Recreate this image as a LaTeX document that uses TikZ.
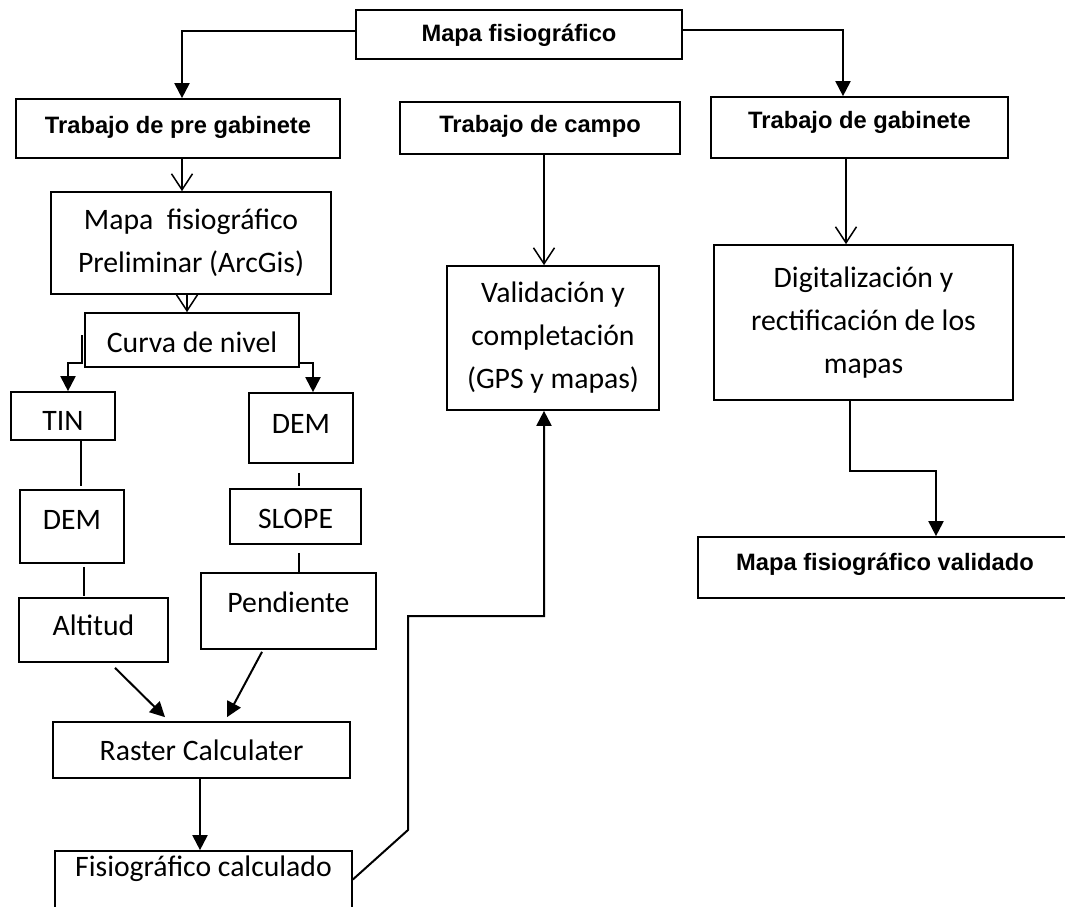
\documentclass[tikz,border=0pt]{standalone}
\usepackage{fontspec}
\setmainfont{Carlito}
\newfontfamily\headfont{Liberation Sans}
\usetikzlibrary{arrows.meta}
\usetikzlibrary{positioning}
\usetikzlibrary{calc}

\begin{document}
\begin{tikzpicture}[x=1pt, y=-1pt,
  box/.style = {draw, line width=1.7pt, inner sep=0pt, align=center,
                font=\fontsize{29.7}{43}\selectfont},
  headbox/.style = {box, font=\headfont\bfseries\fontsize{23.7}{28}\selectfont},
  fa/.style = {-{Triangle[length=15pt,width=15pt]}, line width=2pt},
  oa/.style = {-{Straight Barb[length=16pt,width=21pt]}, line width=1.5pt},
  thin/.style = {line width=1.4pt}]
  \useasboundingbox (0,0) rectangle (1065,907);
  \clip (0,0) rectangle (1065,907);

  % header boxes
  \node[headbox, minimum width=326pt, text height=32pt, text depth=17pt] (mapa) at (519,34.5) {Mapa fisiográfico};
  \node[headbox, minimum width=324pt, text height=34pt, text depth=25pt] (pregab) at (178,128.5) {Trabajo de pre gabinete};
  \node[headbox, minimum width=280pt, text height=30pt, text depth=22pt] (campo) at (540,128) {Trabajo de campo};
  \node[headbox, minimum width=297pt, text height=31pt, text depth=30pt] (gab) at (859.5,127.5) {Trabajo de gabinete};
  \node[headbox, minimum width=374pt, text height=33pt, text depth=28pt] (validado) at (885,567.5) {Mapa fisiográfico validado};

  % left column
  \node[box, minimum width=280pt, minimum height=102pt] (prelim) at (191,243) {Mapa~ fisiográfico\\Preliminar (ArcGis)};
  \node[box, minimum width=214pt, text height=39pt, text depth=15pt] (curva) at (192,340) {Curva de nivel};
  \node[box, minimum width=104pt, text height=38pt, text depth=10pt] (tin) at (63,416) {TIN};
  \node[box, minimum width=104pt, text height=39pt, text depth=34pt] (demL) at (72,526.5) {DEM};
  \node[box, minimum width=149pt, text height=37pt, text depth=27pt] (alt) at (93.5,630) {Altitud};
  \node[box, minimum width=104pt, text height=40pt, text depth=30pt] (demR) at (301,428) {DEM};
  \node[box, minimum width=131pt, text height=39pt, text depth=16pt] (slope) at (295.5,516.5) {SLOPE};
  \node[box, minimum width=175pt, text height=39pt, text depth=37pt] (pend) at (288.5,611) {Pendiente};
  \node[box, minimum width=297pt, text height=38pt, text depth=18pt] (raster) at (201.5,750) {Raster Calculater};
  \node[box, minimum width=297pt, text height=25pt, text depth=32pt] (fcalc) at (203.5,879.5) {Fisiográfico calculado};

  % middle and right columns
  \node[box, minimum width=212pt, minimum height=144pt] (valid) at (553,338) {Validación y\\completación\\(GPS y mapas)};
  \node[box, minimum width=299pt, minimum height=155pt] (digit) at (863.5,322.5) {Digitalización y\\rectificación de los\\mapas};

  % connectors
  \draw[fa] ([yshift=3.5pt]mapa.west) -| ([xshift=4pt]pregab.north);
  \draw[fa] ([yshift=4.5pt]mapa.east) -| ([xshift=-16.5pt]gab.north);
  \draw[oa] ([xshift=4pt]pregab.south) -- ([xshift=-9pt]prelim.north);
  \draw[oa] ([xshift=-4pt]prelim.south) -- ([xshift=-5pt]curva.north);
  \draw[fa] ([xshift=-2pt, yshift=5pt]curva.west) -- ++(0,28) -| ([xshift=5pt]tin.north);
  \draw[fa] ([yshift=-23pt]curva.east) -| ([xshift=12pt]demR.north);
  \draw[thin] ([xshift=18pt]tin.south) -- ([xshift=9pt, yshift=3pt]demL.north);
  \draw[thin] ([xshift=12pt, yshift=-3pt]demL.south) -- ([xshift=-9.5pt, yshift=1pt]alt.north);
  \draw[thin] ([xshift=-2pt, yshift=-9pt]demR.south) -- ([xshift=3.5pt, yshift=2pt]slope.north);
  \draw[thin] ([xshift=3.5pt, yshift=-8pt]slope.south) -- ([xshift=10.5pt]pend.north);
  \draw[fa] ([xshift=21.5pt, yshift=-5pt]alt.south) -- ([xshift=-36.5pt, yshift=4pt]raster.north);
  \draw[fa] ([xshift=-26.5pt, yshift=-2pt]pend.south) -- ([xshift=25.5pt, yshift=4pt]raster.north);
  \draw[fa] ([xshift=-1.5pt]raster.south) -- ([xshift=-3.5pt]fcalc.north);
  \draw[fa] (fcalc.east) -- (408,830) -- (408,616) -| ([xshift=-9pt]valid.south);
  \draw[oa] ([xshift=4pt]campo.south) -- ([xshift=-9pt]valid.north);
  \draw[oa] ([xshift=-13.5pt]gab.south) -- ([xshift=-17.5pt]digit.north);
  \draw[fa] ([xshift=-13.5pt]digit.south) -- ++(0,70) -| ([xshift=51pt]validado.north);
\end{tikzpicture}
\end{document}
